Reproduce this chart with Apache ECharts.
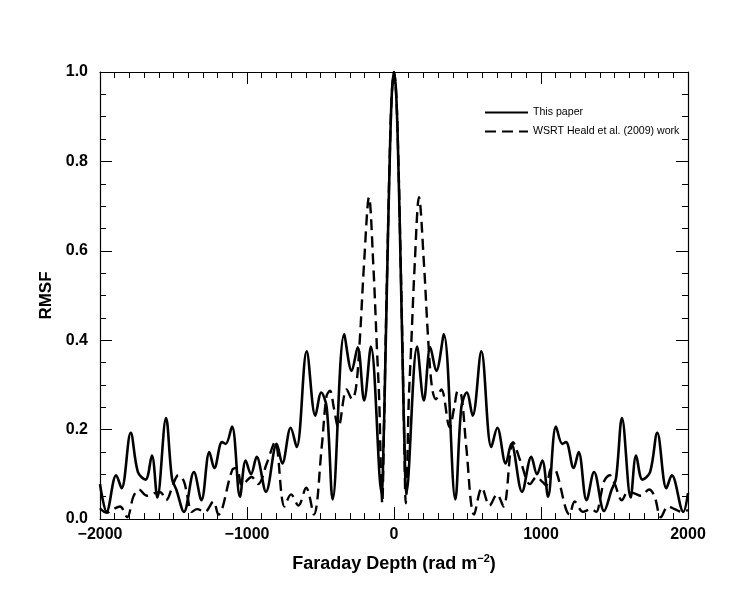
<!DOCTYPE html>
<html>
<head>
<meta charset="utf-8">
<script src="https://cdn.jsdelivr.net/npm/echarts@6/dist/echarts.min.js"></script>
<style>
  html, body { margin: 0; padding: 0; background: #fff; }
</style>
</head>
<body>
<div id="rmsf" style="width: 747px;height: 598px;"></div>

<script type="text/javascript">
    // values (Faraday depth in rad m^-2, RMSF amplitude)
    var solidX = [-2000,-1955,-1890,-1853,-1791,-1742,-1690,-1647,-1610,-1551,-1510,-1480,-1429,-1361,-1310,-1256,-1222,-1170,-1145,-1102,
                  -1048,-1009,-973,-934,-871,-798,-760,-703,-662,-594,-535,-495,-458,-417,-339,-288,-247,-203,-157,-84,
                  -72,-60,-45,-30,-15,0,
                  15,30,45,60,72,84,157,203,247,288,339,417,458,495,535,594,662,703,760,798,
                  871,934,973,1009,1048,1102,1145,1170,1222,1256,1310,1361,1429,1480,1510,1551,1610,1647,1690,1742,
                  1791,1853,1890,1968,2000];
    var solidY = [0.078,0.016,0.098,0.069,0.193,0.105,0.088,0.142,0.048,0.226,0.090,0.065,0.016,0.105,0.042,0.150,0.114,0.172,0.168,0.207,
                  0.050,0.131,0.100,0.139,0.061,0.168,0.124,0.204,0.161,0.375,0.231,0.283,0.250,0.044,0.413,0.331,0.384,0.265,0.386,0.058,
                  0.160,0.330,0.570,0.790,0.950,1.000,
                  0.950,0.790,0.570,0.330,0.160,0.058,0.386,0.265,0.384,0.331,0.413,0.044,0.250,0.283,0.231,0.375,0.161,0.204,0.124,0.168,
                  0.061,0.139,0.100,0.131,0.050,0.207,0.168,0.172,0.114,0.150,0.042,0.105,0.018,0.065,0.090,0.226,0.048,0.142,0.088,0.105,
                  0.193,0.069,0.098,0.016,0.058];

    var dashX = [-2000,-1955,-1910,-1864,-1815,-1773,-1735,-1680,-1630,-1590,-1550,-1500,-1467,-1430,-1405,-1376,-1340,-1286,-1229,-1195,
                 -1100,-1070,-1036,-1010,-969,-925,-866,-810,-745,-700,-650,-598,-545,-492,-459,-435,-410,-379,-322,-285,
                 -258,-231,-204,-170,-141,-116,-100,-88,-80,-70,-58,-45,-30,-15,0,
                 15,30,45,58,70,80,88,100,116,141,170,204,231,258,285,322,379,410,435,459,
                 492,545,598,650,700,745,810,866,925,969,1010,1036,1070,1100,1195,1229,1286,1340,1376,1405,
                 1430,1467,1500,1550,1590,1630,1680,1735,1773,1815,1864,1910,1957,2000];
    var dashY = [0.024,0.014,0.022,0.028,0.004,0.050,0.066,0.052,0.058,0.060,0.042,0.080,0.098,0.085,0.050,0.016,0.022,0.016,0.039,0.010,
                 0.110,0.114,0.075,0.083,0.094,0.078,0.124,0.172,0.028,0.055,0.030,0.070,0.010,0.160,0.275,0.287,0.250,0.205,0.290,0.268,
                 0.295,0.410,0.570,0.720,0.570,0.380,0.260,0.090,0.035,0.170,0.380,0.580,0.800,0.950,1.000,
                 0.950,0.800,0.580,0.380,0.170,0.035,0.090,0.260,0.380,0.570,0.720,0.570,0.410,0.295,0.268,0.290,0.205,0.250,0.287,0.275,
                 0.160,0.010,0.070,0.030,0.055,0.028,0.172,0.124,0.078,0.094,0.083,0.075,0.114,0.110,0.010,0.039,0.016,0.022,0.016,0.050,
                 0.085,0.098,0.080,0.042,0.060,0.058,0.052,0.066,0.050,0.004,0.028,0.022,0.016,0.020];

    var xTicks = [-2000, -1000, 0, 1000, 2000];
    var yTicks = [0.0, 0.2, 0.4, 0.6, 0.8, 1.0];

    function pairs(xs, ys){
        var out = [];
        for(var i = 0; i < xs.length; i++){
            out.push([xs[i], ys[i]]);
        }
        return out;
    }

    var labelFont = {color: '#000', fontFamily: 'Liberation Sans', fontWeight: 'bold', fontSize: 16};
    var tickStyle = {inside: true, length: 12, lineStyle: {color: '#000', width: 1}};
    var minorStyle = {show: true, length: 6, lineStyle: {color: '#000', width: 1}};
    var lineOpt = {show: true, onZero: false, lineStyle: {color: '#000', width: 1.2}};

    var chart = echarts.init(document.getElementById("rmsf"));
    var option = {
        backgroundColor: '#fff',
        animation: false,
        grid: {left: 100, right: 59, top: 72, bottom: 79, show: false},
        legend: {
            orient: 'vertical',
            left: 479,
            top: 102,
            itemWidth: 43,
            itemHeight: 10,
            itemGap: 8,
            itemStyle: {opacity: 0},
            textStyle: {color: '#000', fontFamily: 'Liberation Sans', fontSize: 10.6},
            data: ['This paper', 'WSRT Heald et al. (2009) work']
        },
        xAxis: [
            {
                type: 'value', min: -2000, max: 2000, interval: 1000, position: 'bottom',
                axisLine: lineOpt,
                axisTick: tickStyle,
                minorTick: Object.assign({splitNumber: 10}, minorStyle),
                splitLine: {show: false},
                axisLabel: Object.assign({margin: 8, formatter: function(v){
                    return xTicks.indexOf(v) >= 0 ? String(v).replace('-', '\u2212') : '';
                }}, labelFont),
                name: '{a|Faraday Depth (rad m}{s|\u22122}{a|)}',
                nameLocation: 'middle',
                nameGap: 34,
                nameTextStyle: {
                    rich: {
                        a: {color: '#000', fontFamily: 'Liberation Sans', fontWeight: 'bold', fontSize: 18},
                        s: {color: '#000', fontFamily: 'Liberation Sans', fontWeight: 'bold', fontSize: 11, verticalAlign: 'top', padding: [0, 0, 12, 0]}
                    }
                }
            },
            {
                type: 'value', min: -2000, max: 2000, interval: 1000, position: 'top',
                axisLine: lineOpt,
                axisTick: tickStyle,
                minorTick: Object.assign({splitNumber: 10}, minorStyle),
                splitLine: {show: false},
                axisLabel: {show: false}
            }
        ],
        yAxis: [
            {
                type: 'value', min: 0, max: 1, interval: 0.2, position: 'left',
                axisLine: lineOpt,
                axisTick: tickStyle,
                minorTick: Object.assign({splitNumber: 4}, minorStyle),
                splitLine: {show: false},
                axisLabel: Object.assign({margin: 12, formatter: function(v){
                    return v.toFixed(1);
                }}, labelFont),
                name: 'RMSF',
                nameLocation: 'middle',
                nameGap: 42,
                nameTextStyle: {color: '#000', fontFamily: 'Liberation Sans', fontWeight: 'bold', fontSize: 17}
            },
            {
                type: 'value', min: 0, max: 1, interval: 0.2, position: 'right',
                axisLine: lineOpt,
                axisTick: tickStyle,
                minorTick: Object.assign({splitNumber: 4}, minorStyle),
                splitLine: {show: false},
                axisLabel: {show: false}
            }
        ],
        series: [
            {
                name: 'This paper',
                type: 'line',
                xAxisIndex: 0, yAxisIndex: 0,
                data: pairs(solidX, solidY),
                smooth: 0.35,
                symbol: 'none',
                clip: true,
                lineStyle: {color: '#000', width: 2.6},
                itemStyle: {color: '#000'}
            },
            {
                name: 'WSRT Heald et al. (2009) work',
                type: 'line',
                xAxisIndex: 0, yAxisIndex: 0,
                data: pairs(dashX, dashY),
                smooth: 0.35,
                symbol: 'none',
                clip: true,
                lineStyle: {color: '#000', width: 2.4, type: [11, 6]},
                itemStyle: {color: '#000'}
            }
        ]
    };
    chart.setOption(option);
</script>
</body>
</html>
